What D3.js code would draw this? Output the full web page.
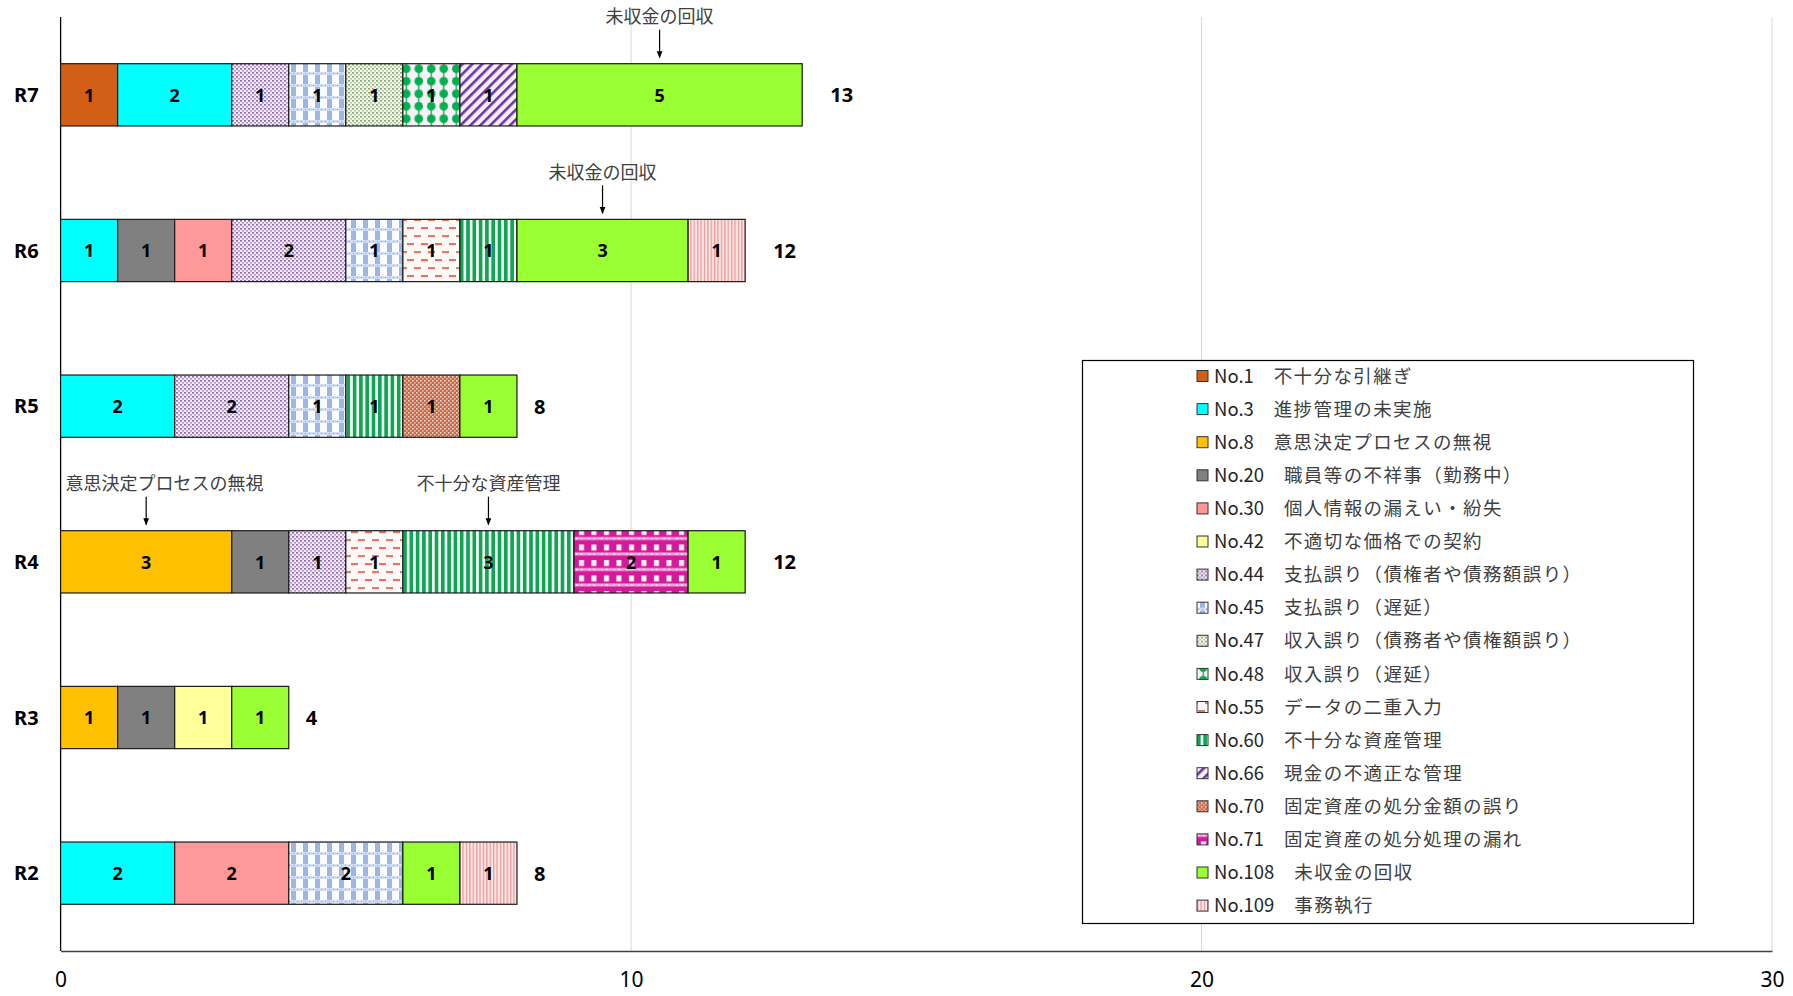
<!DOCTYPE html>
<html>
<head>
<meta charset="utf-8">
<script src="https://cdn.jsdelivr.net/npm/d3@7"></script>
<style>
	body { margin: 0; background: #fff; }
	svg { display: block; }
</style>
</head>
<body>
<div id="chart"></div>
<script>

// categories, top to bottom
const years = ['R7', 'R6', 'R5', 'R4', 'R3', 'R2']

const codes = ['No.1', 'No.3', 'No.8', 'No.20', 'No.30', 'No.42', 'No.44', 'No.45', 'No.47',
	'No.48', 'No.55', 'No.60', 'No.66', 'No.70', 'No.71', 'No.108', 'No.109']

const names = ['不十分な引継ぎ', '進捗管理の未実施', '意思決定プロセスの無視', '職員等の不祥事（勤務中）',
	'個人情報の漏えい・紛失', '不適切な価格での契約', '支払誤り（債権者や債務額誤り）', '支払誤り（遅延）',
	'収入誤り（債務者や債権額誤り）', '収入誤り（遅延）', 'データの二重入力', '不十分な資産管理',
	'現金の不適正な管理', '固定資産の処分金額の誤り', '固定資産の処分処理の漏れ', '未収金の回収', '事務執行']

// counts per code, same order as years (R7 .. R2)
const counts = [
	[1, 0, 0, 0, 0, 0],   // No.1
	[2, 1, 2, 0, 0, 2],   // No.3
	[0, 0, 0, 3, 1, 0],   // No.8
	[0, 1, 0, 1, 1, 0],   // No.20
	[0, 1, 0, 0, 0, 2],   // No.30
	[0, 0, 0, 0, 1, 0],   // No.42
	[1, 2, 2, 1, 0, 0],   // No.44
	[1, 1, 1, 0, 0, 2],   // No.45
	[1, 0, 0, 0, 0, 0],   // No.47
	[1, 0, 0, 0, 0, 0],   // No.48
	[0, 1, 0, 1, 0, 0],   // No.55
	[0, 1, 1, 3, 0, 0],   // No.60
	[1, 0, 0, 0, 0, 0],   // No.66
	[0, 0, 1, 0, 0, 0],   // No.70
	[0, 0, 0, 2, 0, 0],   // No.71
	[5, 3, 1, 1, 1, 1],   // No.108
	[0, 1, 0, 0, 0, 1]    // No.109
]

const xTicks = [0, 10, 20, 30]

// callouts: [year, code, text]
const notes = [
	['R7', 'No.108', '未収金の回収'],
	['R6', 'No.108', '未収金の回収'],
	['R4', 'No.8', '意思決定プロセスの無視'],
	['R4', 'No.60', '不十分な資産管理']
]

/****************************************
 * fills : plain colours or pattern ids
 ****************************************/
const fills = {
	'No.1': '#d35f16', 'No.3': '#00ffff', 'No.8': '#ffc000', 'No.20': '#808080',
	'No.30': '#ff9999', 'No.42': '#ffff99', 'No.108': '#99ff33'
}

const width = 1793
	, height = 996
	, margin = { top: 17, right: 21, bottom: 45, left: 60.6 }
	, jpFont = '"Noto Sans CJK JP", "Noto Sans", sans-serif'
	, numFont = '"Noto Sans", "Open Sans", sans-serif'

const svg = d3.select('#chart').append('svg')
	.attr('width', width)
	.attr('height', height)

const defs = svg.append('defs')

function pattern(id, w, h, draw, transform) {
	let p = defs.append('pattern')
		.attr('id', id)
		.attr('patternUnits', 'userSpaceOnUse')
		.attr('width', w)
		.attr('height', h)
	if (transform) p.attr('patternTransform', transform)
	draw(p)
	fills[id.replace('p', 'No.')] = 'url(#' + id + ')'
}
function box(p, x, y, w, h, c) {
	p.append('rect').attr('x', x).attr('y', y).attr('width', w).attr('height', h).attr('fill', c)
}

// No.44 purple dots
pattern('p44', 4, 4, p => {
	box(p, 0, 0, 4, 4, '#f2e9f6')
	box(p, 0, 0, 2, 1.6, '#8c6aa8')
	box(p, 2, 2, 2, 1.6, '#b197c6')
})
// No.45 blue weave
pattern('p45', 12, 12, p => {
	box(p, 0, 0, 12, 12, '#fbfcff')
	box(p, 3, 3, 5, 9, '#9fb5e4')
	box(p, 0, 0, 12, 3, '#d3ddf2')
	box(p, 1, 1, 1, 1, '#8fa6d8')
	box(p, 5, 1, 1, 1, '#8fa6d8')
	box(p, 9, 1, 1, 1, '#8fa6d8')
})
// No.47 green dots
pattern('p47', 4, 4, p => {
	box(p, 0, 0, 4, 4, '#f3f7ec')
	box(p, 0, 0, 2, 1.6, '#8ca777')
	box(p, 2, 2, 2, 1.6, '#b5c9a3')
})
// No.48 green blobs
pattern('p48', 12.5, 12.5, p => {
	box(p, 0, 0, 12.5, 12.5, '#fbf0f5')
	p.append('circle').attr('cx', 6.25).attr('cy', 6.25).attr('r', 4.3).attr('fill', '#00b050')
	box(p, 5.6, 0, 1.3, 12.5, '#00b050')
})
// No.55 red dashes
pattern('p55', 14, 16, p => {
	box(p, 0, 0, 14, 16, '#fffaf8')
	box(p, 1, 3, 7, 2.2, '#e4765c')
	box(p, 8, 11, 6, 2.2, '#d9826a')
	box(p, 0, 11, 1, 2.2, '#d9826a')
})
// No.60 green vertical stripes
pattern('p60', 6.3, 4, p => {
	box(p, 0, 0, 6.3, 4, '#f4fbf6')
	box(p, 0, 0, 3.6, 4, '#0fa553')
})
// No.66 purple diagonal stripes
pattern('p66', 7, 7, p => {
	box(p, 0, 0, 7, 7, '#f7eef6')
	box(p, 0, 0, 2.6, 7, '#6a35a0')
}, 'rotate(45)')
// No.70 brown checker
pattern('p70', 4, 4, p => {
	box(p, 0, 0, 4, 4, '#c8694d')
	box(p, 0, 0, 1.6, 1.6, '#f8dccb')
	box(p, 2, 2, 1.6, 1.6, '#eebca4')
})
// No.71 magenta check
pattern('p71', 12.5, 15.5, p => {
	box(p, 0, 0, 12.5, 15.5, '#d3199c')
	box(p, 4, 2, 5, 6, '#fff4fb')
	box(p, 0, 10, 12.5, 3, '#eda6d9')
	box(p, 1, 10.8, 1.4, 1.4, '#ffffff')
	box(p, 6, 10.8, 1.4, 1.4, '#ffffff')
})
// No.109 pink narrow stripes
pattern('p109', 3.4, 4, p => {
	box(p, 0, 0, 3.4, 4, '#fce6e6')
	box(p, 0, 0, 1.3, 4, '#ee9a9a')
})

// arrow head
defs.append('marker')
	.attr('id', 'arrow')
	.attr('viewBox', '0 0 10 10')
	.attr('refX', 9).attr('refY', 5)
	.attr('markerWidth', 6).attr('markerHeight', 6)
	.attr('orient', 'auto')
	.append('path')
	.attr('d', 'M0,1 L10,5 L0,9 z')
	.attr('fill', '#000')

/****************************************
 * scales
 ****************************************/
const x = d3.scaleLinear()
	.domain([0, 30])
	.range([margin.left, width - margin.right])

const y = d3.scaleBand()
	.domain(years)
	.range([margin.top, height - margin.bottom])
	.paddingInner(0.6)
	.paddingOuter(0.3)

const table = years.map((yr, i) => {
	let row = { year: yr }
	codes.forEach((c, j) => { row[c] = counts[j][i] })
	return row
})
const totals = years.map((yr, i) => d3.sum(counts, d => d[i]))

const series = d3.stack().keys(codes)(table)

// gridlines
svg.append('g')
	.selectAll('line')
	.data(xTicks.slice(1))
	.join('line')
	.attr('x1', d => x(d)).attr('x2', d => x(d))
	.attr('y1', margin.top).attr('y2', height - margin.bottom)
	.attr('stroke', '#d9d9d9')
	.attr('stroke-width', 1)

// x axis
const xAxis = svg.append('g')
	.attr('transform', 'translate(0,' + (height - margin.bottom) + ')')
	.call(d3.axisBottom(x).tickValues(xTicks).tickSize(0).tickPadding(21))
xAxis.select('.domain').attr('stroke', '#404040').attr('stroke-width', 1.3)
xAxis.selectAll('text')
	.attr('font-family', numFont)
	.attr('font-size', 21)
	.attr('fill', '#000')

// y axis line
svg.append('line')
	.attr('x1', x(0)).attr('x2', x(0))
	.attr('y1', margin.top).attr('y2', height - margin.bottom)
	.attr('stroke', '#000')
	.attr('stroke-width', 1.3)

// category labels
svg.append('g')
	.selectAll('text')
	.data(years)
	.join('text')
	.attr('x', x(0) - 22)
	.attr('y', d => y(d) + y.bandwidth() / 2)
	.attr('dy', '0.35em')
	.attr('text-anchor', 'end')
	.attr('font-family', numFont)
	.attr('font-weight', 'bold')
	.attr('font-size', 20)
	.text(d => d)

// bars
const layer = svg.append('g')
	.selectAll('g')
	.data(series)
	.join('g')
	.attr('fill', d => fills[d.key])

layer.selectAll('rect')
	.data(d => d.filter(s => s[1] > s[0]))
	.join('rect')
	.attr('x', d => x(d[0]))
	.attr('y', d => y(d.data.year))
	.attr('width', d => x(d[1]) - x(d[0]))
	.attr('height', y.bandwidth())
	.attr('stroke', '#1a1a1a')
	.attr('stroke-width', 1.2)

// value labels
layer.selectAll('text')
	.data(d => d.filter(s => s[1] > s[0]))
	.join('text')
	.attr('x', d => (x(d[0]) + x(d[1])) / 2)
	.attr('y', d => y(d.data.year) + y.bandwidth() / 2)
	.attr('dy', '0.38em')
	.attr('text-anchor', 'middle')
	.attr('font-family', numFont)
	.attr('font-weight', 'bold')
	.attr('font-size', 18)
	.attr('fill', '#000')
	.text(d => d[1] - d[0])

// totals
svg.append('g')
	.selectAll('text')
	.data(years)
	.join('text')
	.attr('x', (d, i) => x(totals[i]) + 6 + 11 * String(totals[i]).length)
	.attr('y', d => y(d) + y.bandwidth() / 2)
	.attr('dy', '0.38em')
	.attr('font-family', numFont)
	.attr('font-weight', 'bold')
	.attr('font-size', 20)
	.text((d, i) => totals[i])

// callouts
const noteG = svg.append('g')
notes.forEach(n => {
	let s = series[codes.indexOf(n[1])][years.indexOf(n[0])]
		, cx = x((s[0] + s[1]) / 2)
		, top = y(n[0])
	noteG.append('line')
		.attr('x1', cx).attr('x2', cx)
		.attr('y1', top - 34).attr('y2', top - 6)
		.attr('stroke', '#000')
		.attr('stroke-width', 1.2)
		.attr('marker-end', 'url(#arrow)')
	let t = noteG.append('text')
		.attr('y', top - 47)
		.attr('dy', '0.35em')
		.attr('text-anchor', 'middle')
		.attr('font-family', jpFont)
		.attr('font-size', 18)
		.attr('fill', '#404040')
		.text(n[2])
	let w = t.node().getComputedTextLength()
	t.attr('x', Math.max(cx, x(0) + 5 + w / 2))
})

// legend
const legend = svg.append('g')
legend.append('rect')
	.attr('x', 1082.5).attr('y', 360.5)
	.attr('width', 611).attr('height', 563)
	.attr('fill', '#fff')
	.attr('stroke', '#000')
	.attr('stroke-width', 1.2)

const item = legend.selectAll('g.item')
	.data(codes)
	.join('g')
	.attr('class', 'item')
	.attr('transform', (d, i) => 'translate(1197,' + (376 + i * 33.1) + ')')

item.append('rect')
	.attr('x', 0).attr('y', -5.5)
	.attr('width', 11).attr('height', 11)
	.attr('fill', d => fills[d])
	.attr('stroke', '#333')
	.attr('stroke-width', 1)

const label = item.append('text')
	.attr('x', 17)
	.attr('dy', '0.36em')
	.attr('font-family', jpFont)
	.attr('font-size', 18.5)
	.attr('fill', '#262626')
label.append('tspan').text(d => d)
label.append('tspan')
	.attr('fill', '#404040')
	.attr('letter-spacing', 1.4)
	.text((d, i) => '　' + names[i])

</script>
</body>
</html>
